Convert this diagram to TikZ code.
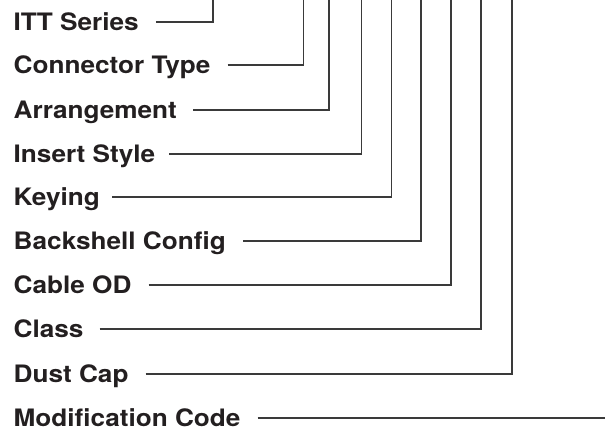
\documentclass[tikz,border=0pt]{standalone}
\usepackage{fontspec}
\usepackage{tikz}
\usetikzlibrary{calc}
\newfontfamily\lblfont{TeX Gyre Heros}[FakeStretch=1.09]
\definecolor{leadgray}{HTML}{3A3A3A}
\definecolor{inkblack}{HTML}{231F20}

\begin{document}
\begin{tikzpicture}[x=1pt,y=-1pt,
        lbl/.style={anchor=base west,inner sep=0pt,text=inkblack,
            font=\lblfont\bfseries\fontsize{24}{28}\selectfont},
        lead/.style={draw=leadgray,line width=1.1pt,line join=miter}]
                \useasboundingbox (0,0) rectangle (605,429);
                \coordinate (top) at (0,0);
                % corner of each leader line
                \coordinate (r1) at (213,22);
                \coordinate (r2) at (303.5,65);
                \coordinate (r3) at (329,110);
                \coordinate (r4) at (361.5,154);
                \coordinate (r5) at (391.5,197);
                \coordinate (r6) at (421,241);
                \coordinate (r7) at (451,285);
                \coordinate (r8) at (481,329);
                \coordinate (r9) at (512,374);
                \coordinate (r10) at (605,418);
                % labels
                \node[lbl] (series) at (13.5,30.6) {ITT Series};
                \node[lbl] (ctype) at (13.5,73.6) {Connector Type};
                \node[lbl] (arrange) at (13.5,118.6) {Arrangement};
                \node[lbl] (insert) at (13.5,162.6) {Insert Style};
                \node[lbl] (keying) at (13.5,205.6) {Keying};
                \node[lbl] (bshell) at (13.5,249.6) {Backshell Config};
                \node[lbl] (cable) at (13.5,293.6) {Cable OD};
                \node[lbl] (class) at (13.5,337.6) {Class};
                \node[lbl] (dcap) at (13.5,382.6) {Dust Cap};
                \node[lbl] (modcode) at (13.5,426.6) {Modification Code};
                % leaders
                \draw[lead] ($(series.east |- r1)+(17,0)$) -- (r1) -- (r1 |- top);
                \draw[lead] ($(ctype.east |- r2)+(17,0)$) -- (r2) -- (r2 |- top);
                \draw[lead] ($(arrange.east |- r3)+(16,0)$) -- (r3) -- (r3 |- top);
                \draw[lead] ($(insert.east |- r4)+(14,0)$) -- (r4) -- (r4 |- top);
                \draw[lead] ($(keying.east |- r5)+(12,0)$) -- (r5) -- (r5 |- top);
                \draw[lead] ($(bshell.east |- r6)+(17,0)$) -- (r6) -- (r6 |- top);
                \draw[lead] ($(cable.east |- r7)+(17,0)$) -- (r7) -- (r7 |- top);
                \draw[lead] ($(class.east |- r8)+(16,0)$) -- (r8) -- (r8 |- top);
                \draw[lead] ($(dcap.east |- r9)+(17,0)$) -- (r9) -- (r9 |- top);
                \draw[lead] ($(modcode.east |- r10)+(17,0)$) -- (r10);
            \end{tikzpicture}
\end{document}
